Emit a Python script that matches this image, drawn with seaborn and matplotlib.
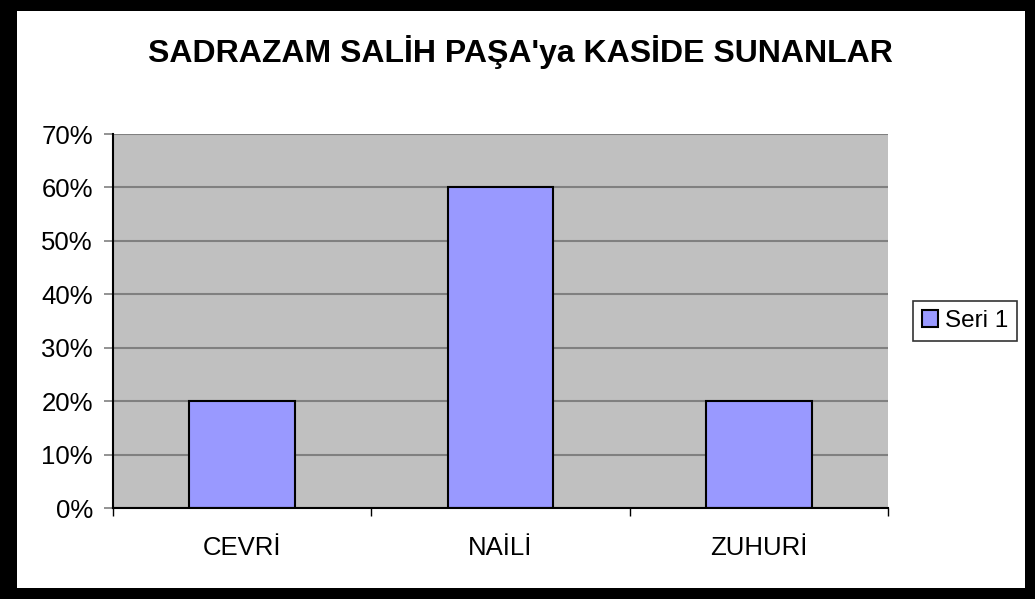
import matplotlib
matplotlib.use("Agg")
import matplotlib.pyplot as plt
from matplotlib.patches import Rectangle
from matplotlib.ticker import PercentFormatter, FixedLocator
import seaborn as sns

categories = ["CEVRİ", "NAİLİ", "ZUHURİ"]
shares = [0.20, 0.60, 0.20]
series_name = "Seri 1"
title = "SADRAZAM SALİH PAŞA'ya KASİDE SUNANLAR"

sns.set_style("white")
plt.rcParams["font.family"] = ["Liberation Sans", "DejaVu Sans"]
plt.rcParams["text.color"] = "black"
plt.rcParams["xtick.color"] = "black"
plt.rcParams["ytick.color"] = "black"

W, H = 1035, 599
fig = plt.figure(figsize=(W / 100, H / 100), dpi=100)
fig.patch.set_facecolor("black")
# white chart area inside the black frame
fig.patches.append(Rectangle((17 / W, 11 / H), (1025 - 17) / W, (588 - 11) / H,
                             transform=fig.transFigure, facecolor="white",
                             edgecolor="none", zorder=-5))

ax = fig.add_axes([113 / W, (H - 508) / H, (888 - 113) / W, (508 - 134) / H])
ax.set_facecolor("#C0C0C0")

sns.barplot(x=categories, y=shares, color="#9999FF", edgecolor="black",
            linewidth=1.5, width=0.41, saturation=1, label=series_name, ax=ax,
            zorder=3)

ax.set_xlim(-0.5, 2.5)
ax.set_ylim(0, 0.70)
ax.yaxis.set_major_locator(FixedLocator([i / 10 for i in range(8)]))
ax.yaxis.set_major_formatter(PercentFormatter(1.0, decimals=0))
ax.yaxis.grid(True, color="#808080", linewidth=1.5, zorder=1)
ax.set_axisbelow(True)

for side in ("top", "right"):
    ax.spines[side].set_visible(False)
ax.spines["left"].set_color("black")
ax.spines["left"].set_linewidth(1.5)
ax.spines["bottom"].set_color("black")
ax.spines["bottom"].set_linewidth(1.5)
ax.spines["left"].set_zorder(4)
ax.spines["bottom"].set_zorder(4)

ax.tick_params(axis="y", direction="out", length=6.5, width=1.2, color="#808080",
               labelcolor="black", labelsize=18.5, pad=8, left=True)
ax.tick_params(axis="x", which="major", length=0, labelcolor="black",
               labelsize=18.5, pad=20)
ax.xaxis.set_minor_locator(FixedLocator([-0.5, 0.5, 1.5, 2.5]))
ax.tick_params(axis="x", which="minor", direction="out", length=6, width=1,
               color="black", bottom=True)
ax.set_xlabel("")
ax.set_ylabel("")

if ax.get_legend() is not None:
    ax.get_legend().remove()
handles, labels = ax.get_legend_handles_labels()
leg = fig.legend(handles[:1], labels[:1], loc="center", bbox_to_anchor=(965 / W, 1 - 321 / H),
                 fancybox=False, frameon=True, edgecolor="black", fontsize=17.5,
                 handlelength=0.65, handleheight=0.65, handletextpad=0.3,
                 borderpad=0.35, borderaxespad=0, labelcolor="black")
leg.get_frame().set_linewidth(1.2)

fig.text(520 / W, 1 - 52 / H, title, ha="center", va="center",
         fontsize=23, fontweight="bold", color="black")

fig.savefig("out.png", dpi=100, facecolor=fig.get_facecolor())
